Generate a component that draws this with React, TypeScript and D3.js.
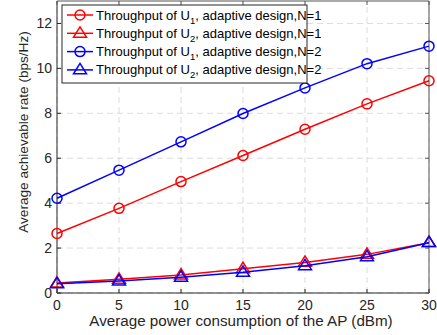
import React from "react";
import * as d3 from "d3";

const powerDbm = [0, 5, 10, 15, 20, 25, 30];
const u1N1 = [2.65, 3.77, 4.96, 6.12, 7.29, 8.42, 9.45];
const u2N1 = [0.44, 0.61, 0.8, 1.08, 1.36, 1.72, 2.24];
const u1N2 = [4.22, 5.47, 6.73, 7.99, 9.13, 10.21, 10.99];
const u2N2 = [0.41, 0.53, 0.7, 0.92, 1.21, 1.61, 2.24];
const xTicks = [0, 5, 10, 15, 20, 25, 30];
const yTicks = [0, 2, 4, 6, 8, 10, 12];

const seriesList = [
  { user: "1", n: "1", values: u1N1, color: "#ff0000", marker: "circle" },
  { user: "2", n: "1", values: u2N1, color: "#ff0000", marker: "triangle" },
  { user: "1", n: "2", values: u1N2, color: "#0000ff", marker: "circle" },
  { user: "2", n: "2", values: u2N2, color: "#0000ff", marker: "triangle" },
];

const W = 437;
const H = 335;
const M = { left: 57, right: 8, top: 1, bottom: 42 };
const FONT = "'Liberation Sans', Arial, Helvetica, sans-serif";

function Marker({ kind, x, y, color }: { kind: string; x: number; y: number; color: string }) {
  if (kind === "circle") {
    return <circle cx={x} cy={y} r={5} fill="none" stroke={color} strokeWidth={1.5} />;
  }
  const s = 6.5;
  const pts = `${x},${y - s} ${x - s},${y + s * 0.6} ${x + s},${y + s * 0.6}`;
  return <polygon points={pts} fill="none" stroke={color} strokeWidth={1.5} />;
}

export default function App() {
  const x = d3.scaleLinear().domain([0, 30]).range([M.left, W - M.right]);
  const y = d3.scaleLinear().domain([0, 13]).range([H - M.bottom, M.top]);
  const line = d3
    .line<number>()
    .x((_, i) => x(powerDbm[i]))
    .y((d) => y(d));

  const x0 = x.range()[0];
  const x1 = x.range()[1];
  const y0 = y.range()[0];
  const y1 = y.range()[1];

  const legend = { x: 62, y: 5, w: 245, h: 78, row: 18.3 };

  return (
    <svg width={W} height={H} style={{ position: "absolute", left: 0, top: 0, background: "#fff" }} fontFamily={FONT}>
      <rect x={0} y={0} width={W} height={H} fill="#fff" />
      {/* grid */}
      {xTicks.map((t) => (
        <line key={"gx" + t} x1={x(t)} x2={x(t)} y1={y0} y2={y1} stroke="#dcdcdc" strokeWidth={1} strokeDasharray="6,4" />
      ))}
      {yTicks.map((t) => (
        <line key={"gy" + t} x1={x0} x2={x1} y1={y(t)} y2={y(t)} stroke="#dcdcdc" strokeWidth={1} strokeDasharray="6,4" />
      ))}
      {/* axes box */}
      <line x1={x0} x2={x1} y1={y0} y2={y0} stroke="#262626" strokeWidth={1} />
      <line x1={x0} x2={x0} y1={y0} y2={y1} stroke="#262626" strokeWidth={1} />
      <line x1={x1} x2={x1} y1={y0} y2={y1} stroke="#555" strokeWidth={1} />
      <line x1={x0} x2={x1} y1={y1} y2={y1} stroke="#555" strokeWidth={1} />
      {/* ticks */}
      {xTicks.map((t) => (
        <g key={"tx" + t}>
          <line x1={x(t)} x2={x(t)} y1={y0} y2={y0 - 4} stroke="#262626" />
          <line x1={x(t)} x2={x(t)} y1={y1} y2={y1 + 4} stroke="#555" />
          <text x={x(t)} y={y0 + 17} textAnchor="middle" fontSize={14} fill="#262626">{t}</text>
        </g>
      ))}
      {yTicks.map((t) => (
        <g key={"ty" + t}>
          <line x1={x0} x2={x0 + 4} y1={y(t)} y2={y(t)} stroke="#262626" />
          <line x1={x1} x2={x1 - 4} y1={y(t)} y2={y(t)} stroke="#555" />
          <text x={x0 - 5} y={y(t) + 5} textAnchor="end" fontSize={14} fill="#262626">{t}</text>
        </g>
      ))}
      {/* series */}
      {seriesList.map((s, k) => (
        <g key={"s" + k}>
          <path d={line(s.values) || ""} fill="none" stroke={s.color} strokeWidth={1.5} />
          {s.values.map((v, i) => (
            <Marker key={i} kind={s.marker} x={x(powerDbm[i])} y={y(v)} color={s.color} />
          ))}
        </g>
      ))}
      {/* axis titles */}
      <text x={(x0 + x1) / 2 - 2} y={H - 9} textAnchor="middle" fontSize={15.2} fill="#262626">
        Average power consumption of the AP (dBm)
      </text>
      <text transform="translate(28,132) rotate(-90)" textAnchor="middle" fontSize={13.6} fill="#262626">
        Average achievable rate (bps/Hz)
      </text>
      {/* legend */}
      <rect x={legend.x} y={legend.y} width={legend.w} height={legend.h} fill="#fff" stroke="#262626" strokeWidth={1} />
      {seriesList.map((s, k) => {
        const cy = legend.y + 10 + k * legend.row;
        return (
          <g key={"l" + k}>
            <line x1={legend.x + 5} x2={legend.x + 31} y1={cy} y2={cy} stroke={s.color} strokeWidth={1.5} />
            <Marker kind={s.marker} x={legend.x + 18} y={cy} color={s.color} />
            <text x={legend.x + 34} y={cy + 4.5} fontSize={13} fill="#000">
              Throughput of U
              <tspan dy={4} fontSize={9.5}>{s.user}</tspan>
              <tspan dy={-4}>, adaptive design,N={s.n}</tspan>
            </text>
          </g>
        );
      })}
    </svg>
  );
}
